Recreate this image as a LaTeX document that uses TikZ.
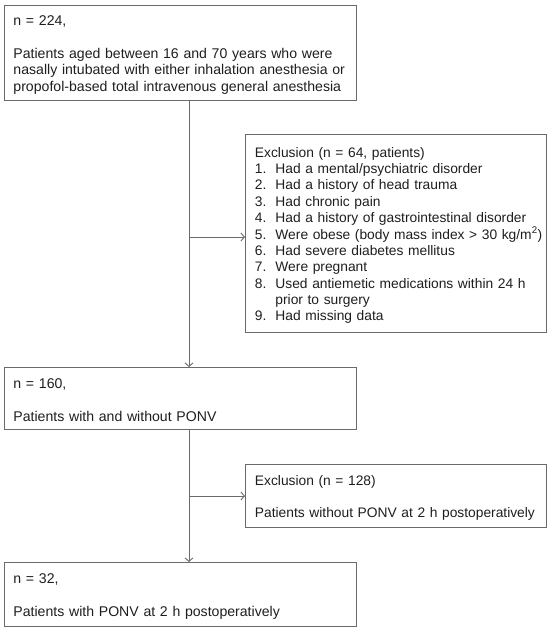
\documentclass[tikz,border=0pt]{standalone}
\usepackage{fontspec}
\setmainfont{Liberation Sans}
\usetikzlibrary{arrows.meta}
\definecolor{boxgray}{HTML}{6A6A6A}
\definecolor{txtgray}{HTML}{1E1E1E}
\newcommand{\exno}[1]{\makebox[20.5pt][l]{#1}}

\begin{document}
\begin{tikzpicture}[x=1pt,y=-1pt,
    box/.style={draw=boxgray,line width=0.9pt,anchor=north west,align=left,
      inner xsep=9pt,inner ysep=0pt,text=txtgray,font=\fontsize{14.1}{16.4}\selectfont,
      execute at begin node={\rule{0pt}{14pt}}},
    exbox/.style={box,text width=282pt,inner xsep=9.5pt,font=\fontsize{13.8}{16.35}\selectfont},
    flow/.style={draw=boxgray,line width=0.9pt},
    >={Straight Barb[length=3.5pt,width=8pt]}]
  \useasboundingbox (0,0) rectangle (550,629);
  \node[box,text width=334pt,minimum height=95pt] (n224) at (4,5)
    {n = 224,\\[16.4pt]\mbox{Patients aged between 16 and 70 years who were}\\\mbox{nasally intubated with either inhalation anesthesia or}\\\mbox{propofol-based total intravenous general anesthesia}};
  \node[box,text width=334pt,minimum height=62pt] (n160) at (4,367)
    {n = 160,\\[16.4pt]Patients with and without PONV};
  \node[box,text width=334pt,minimum height=64pt] (n32) at (4,562)
    {n = 32,\\[16.4pt]Patients with PONV at 2 h postoperatively};
  \node[exbox,minimum height=198pt] (exc64) at (245,134)
    {Exclusion (n = 64, patients)\\
     \exno{1.}Had a mental/psychiatric disorder\\
     \exno{2.}Had a history of head trauma\\
     \exno{3.}Had chronic pain\\
     \mbox{\exno{4.}Had a history of gastrointestinal disorder}\\
     \mbox{\exno{5.}Were obese (body mass index > 30 kg/m\textsuperscript{2})}\\
     \exno{6.}Had severe diabetes mellitus\\
     \exno{7.}Were pregnant\\
     \mbox{\exno{8.}Used antiemetic medications within 24 h}\\
     \exno{}prior to surgery\\
     \exno{9.}Had missing data};
  \node[exbox,minimum height=63pt] (exc128) at (245,464)
    {Exclusion (n = 128)\\[16.4pt]\mbox{Patients without PONV at 2 h postoperatively}};

  \coordinate (s1) at (189,237);
  \coordinate (s2) at (189,496);
  \draw[flow,->] (n224.south -| s1) -- (n160.north -| s1);
  \draw[flow,->] (n160.south -| s2) -- (n32.north -| s2);
  \draw[flow,->] (s1) -- (s1 -| exc64.west);
  \draw[flow,->] (s2) -- (s2 -| exc128.west);
\end{tikzpicture}
\end{document}
